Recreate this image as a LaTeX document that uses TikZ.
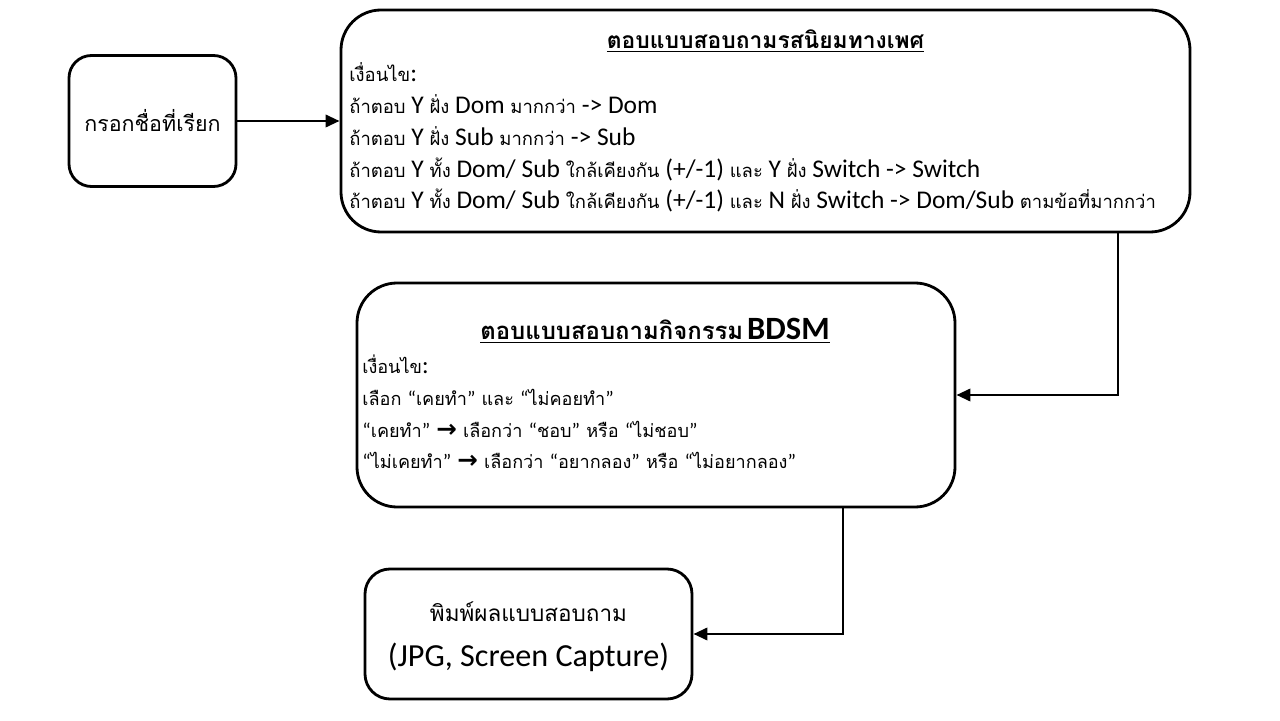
\documentclass[tikz,border=0pt]{standalone}
\usepackage{fontspec}
\setmainfont{Carlito}
\newfontfamily\thai[Script=Thai]{Loma}
\newfontfamily\symfont{DejaVu Sans}
\usepackage{tikz}
\usetikzlibrary{arrows.meta,positioning,calc}

\newcommand{\thsmall}[1]{{\thai\fontsize{10.5}{18}\selectfont #1}}
\newcommand{\quoted}[1]{{\rmfamily\fontsize{11.5}{18.1}\selectfont “}#1{\rmfamily\fontsize{11.5}{18.1}\selectfont ”}}
\newcommand{\bigarrow}{{\symfont\bfseries\fontsize{14}{18.1}\selectfont →}}

\begin{document}
\begin{tikzpicture}[
  box/.style={draw, line width=1.6pt, rounded corners=#1},
  box/.default=0.5cm,
  link/.style={-{Triangle[length=8pt,width=7pt]}, line width=1.6pt},
]
\useasboundingbox (0,0) rectangle (25.6,14.4);

% Name input
\node[box=0.45cm, minimum width=3.34cm, minimum height=2.62cm, font=\thai\fontsize{12.2}{16}\selectfont] (name) at (3.05,11.98) {กรอกชื่อที่เรียก};

% Sexual preference survey
\node[box=0.8cm, minimum width=16.98cm, minimum height=4.44cm] (pref) at (15.31,11.98) {};
\node[anchor=base, font=\thai\bfseries\fontsize{13}{16}\selectfont] (prefTitle) at (15.31,13.42) {\underline{ตอบแบบสอบถามรสนิยมทางเพศ}};
% base of a multi-line node = last line
\node[anchor=base west, align=left, inner sep=0pt, font=\fontsize{14.5}{18.1}\selectfont] (prefRules) at (6.98,10.22) {%
  \thsmall{เงื่อนไข}:\\
  \thsmall{ถ้าตอบ} Y \thsmall{ฝั่ง} Dom \thsmall{มากกว่า} -> Dom\\
  \thsmall{ถ้าตอบ} Y \thsmall{ฝั่ง} Sub \thsmall{มากกว่า} -> Sub\\
  \thsmall{ถ้าตอบ} Y \thsmall{ทั้ง} Dom/ Sub \thsmall{ใกล้เคียงกัน} (+/-1) \thsmall{และ} Y \thsmall{ฝั่ง} Switch -> Switch\\
  \thsmall{ถ้าตอบ} Y \thsmall{ทั้ง} Dom/ Sub \thsmall{ใกล้เคียงกัน} (+/-1) \thsmall{และ} N \thsmall{ฝั่ง} Switch -> Dom/Sub \thsmall{ตามข้อที่มากกว่า}};

% BDSM activity survey
\node[box=0.8cm, minimum width=11.96cm, minimum height=4.48cm] (bdsm) at (13.12,6.5) {};
\node[anchor=base] (bdsmTitle) at (13.1,7.6) {\underline{{\thai\bfseries\fontsize{13.6}{18}\selectfont ตอบแบบสอบถามกิจกรรม} {\bfseries\fontsize{18.5}{20}\selectfont BDSM}}};
\node[anchor=base west, align=left, inner sep=0pt, font=\thai\fontsize{10.3}{18.1}\selectfont] (bdsmRules) at (7.24,5.02) {%
  เงื่อนไข{\rmfamily\fontsize{14}{18.1}\selectfont :}\\
  เลือก \quoted{เคยทำ} และ \quoted{ไม่คอยทำ}\\
  \quoted{เคยทำ} \bigarrow{} เลือกว่า \quoted{ชอบ} หรือ \quoted{ไม่ชอบ}\\
  \quoted{ไม่เคยทำ} \bigarrow{} เลือกว่า \quoted{อยากลอง} หรือ \quoted{ไม่อยากลอง}};

% Print result
\node[box=0.5cm, minimum width=6.54cm, minimum height=2.6cm] (print) at (10.57,1.72) {};
\node[anchor=base, font=\thai\fontsize{12.8}{16}\selectfont] (printTh) at (10.57,1.96) {พิมพ์ผลแบบสอบถาม};
\node[anchor=base, font=\fontsize{18.3}{20}\selectfont] (printEn) at (10.57,1.06) {(JPG, Screen Capture)};

% Connectors
\draw[link] (name) -- (pref);
\draw[link] ([xshift=7.05cm]pref.south) |- (bdsm.east);
\draw[link] ([xshift=3.74cm]bdsm.south) |- (print.east);

\end{tikzpicture}
\end{document}
